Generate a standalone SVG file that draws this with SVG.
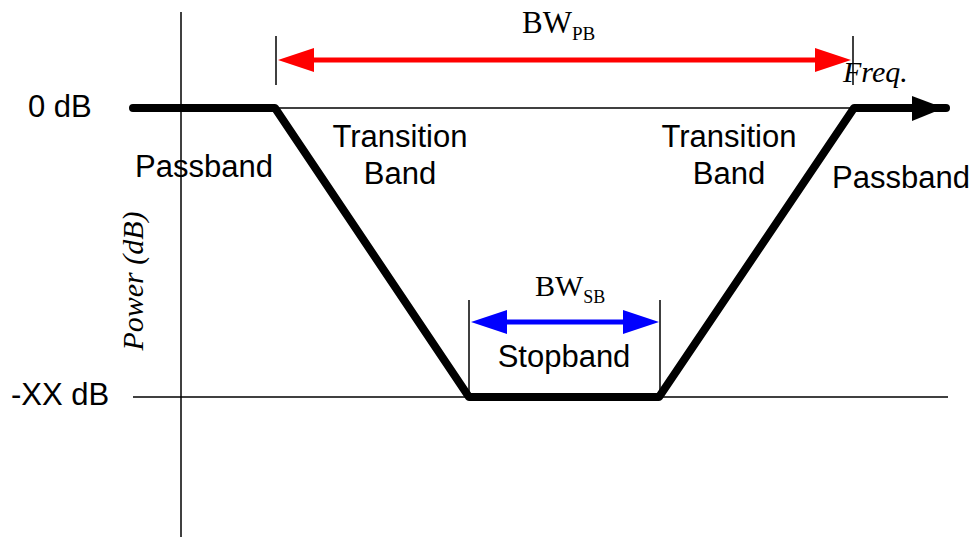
<svg xmlns="http://www.w3.org/2000/svg" width="975" height="537" viewBox="0 0 975 537">
<style>
.s{font-family:"Liberation Sans",Arial,sans-serif;font-size:31px;fill:#000}
.r{font-family:"Liberation Serif","Times New Roman",serif;fill:#000}
.thin{stroke:#000;stroke-width:1.5;fill:none}
</style>
<rect width="975" height="537" fill="#fff"/>
<g id="axes">
<line class="thin" x1="181" y1="12" x2="181" y2="537"/>
<line class="thin" x1="275" y1="108" x2="855" y2="108"/>
<line class="thin" x1="133" y1="397" x2="948" y2="397"/>
</g>
<g id="connectors">
<g id="response">
<polyline points="133,108 275,108 469,397 659,397 854,108 915,108" fill="none" stroke="#000" stroke-width="8" stroke-linecap="round" stroke-linejoin="round"/>
<line x1="915" y1="108" x2="946" y2="108" stroke="#000" stroke-width="8" stroke-linecap="round"/>
<polygon points="912,96 944,108 912,121" fill="#000"/>
</g>
<g id="bwpb">
<line class="thin" x1="276" y1="36" x2="276" y2="85"/>
<line class="thin" x1="853" y1="36" x2="853" y2="85"/>
<line x1="310" y1="60" x2="818" y2="60" stroke="#f00" stroke-width="5"/>
<polygon points="278,60 314,48 314,72" fill="#f00"/>
<polygon points="851,60 815,48 815,72" fill="#f00"/>
</g>
<g id="bwsb">
<line class="thin" x1="469" y1="300" x2="469" y2="397"/>
<line class="thin" x1="660" y1="300" x2="660" y2="397"/>
<line x1="500" y1="322" x2="630" y2="322" stroke="#00f" stroke-width="5"/>
<polygon points="471,322 507,310 507,334" fill="#00f"/>
<polygon points="659,322 623,310 623,334" fill="#00f"/>
</g>
</g>
<g id="labels">
<text class="s" x="28" y="117">0 dB</text>
<text class="s" x="11" y="405">-XX dB</text>
<text class="s" x="135" y="177">Passband</text>
<text class="s" x="400" y="147" text-anchor="middle">Transition</text>
<text class="s" x="400" y="184" text-anchor="middle">Band</text>
<text class="s" x="729" y="147" text-anchor="middle">Transition</text>
<text class="s" x="729" y="184" text-anchor="middle">Band</text>
<text class="s" x="832" y="188">Passband</text>
<text class="s" x="564" y="367" text-anchor="middle">Stopband</text>
<text class="r" x="522" y="33" font-size="31">BW<tspan font-size="19" dy="7">PB</tspan></text>
<text class="r" x="535" y="296" font-size="30">BW<tspan font-size="18" dy="7">SB</tspan></text>
<text class="r" x="843" y="82" font-size="30" font-style="italic">Freq.</text>
<text class="r" x="0" y="0" font-size="30" font-style="italic" text-anchor="middle" transform="translate(143,281) rotate(-90)">Power (dB)</text>
</g>
</svg>
